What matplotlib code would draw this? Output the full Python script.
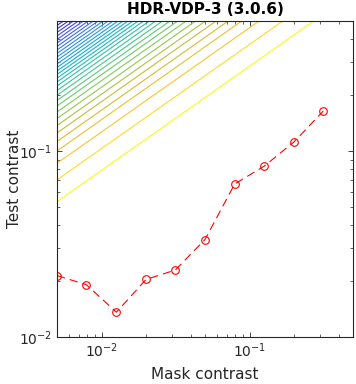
import numpy as np
import matplotlib
matplotlib.use("Agg")
import matplotlib.pyplot as plt
from matplotlib.colors import LinearSegmentedColormap

# measured thresholds (red curve)
mask_contrast = [0.005, 0.0079, 0.0126, 0.02, 0.0315, 0.05, 0.0794, 0.126, 0.2, 0.315]
test_contrast = [0.0214, 0.0191, 0.0136, 0.0204, 0.0229, 0.0334, 0.0665, 0.083, 0.112, 0.164]

# contour lines: test contrast where each line meets the left edge (mask = 0.005)
contour_left = [0.0534, 0.0699, 0.0859, 0.100, 0.1125, 0.1250, 0.1371, 0.1495,
                0.1621, 0.1746, 0.1869, 0.1993, 0.2115, 0.2236, 0.2350, 0.2463,
                0.2578, 0.2692, 0.2812, 0.2936, 0.3066, 0.3201, 0.3343, 0.3491,
                0.3646, 0.3807, 0.3976, 0.4152, 0.4336, 0.4528, 0.4728, 0.4937]
contour_slope = 0.56  # log-log slope of the contour lines

# MATLAB parula, a few stops
parula = LinearSegmentedColormap.from_list(
    "parula", [(0.2422, 0.1504, 0.6603), (0.2810, 0.3228, 0.9579),
               (0.1707, 0.5615, 0.9277), (0.0689, 0.6948, 0.8394),
               (0.2161, 0.7843, 0.5923), (0.5044, 0.7993, 0.3480),
               (0.8185, 0.7327, 0.1890), (0.9955, 0.7861, 0.1968),
               (0.9769, 0.9839, 0.0805)])

fig = plt.figure(figsize=(3.56, 3.84), dpi=100)
ax = fig.add_axes([0.160, 0.1224, 0.8315, 0.8229])

xs = np.logspace(np.log10(0.005), np.log10(0.5), 300)
ys = np.logspace(-2, np.log10(0.5), 300)
XX, YY = np.meshgrid(xs, ys)
Z = np.log10(YY) - contour_slope * np.log10(XX / 0.005)

levels = np.log10(contour_left)
n = len(levels)
t_idx = np.arange(n) / (n - 1)
t_pos = (levels - levels[0]) / (levels[-1] - levels[0])
cols = [parula(1 - 0.5 * (a + b)) for a, b in zip(t_idx, t_pos)]
ax.contour(XX, YY, Z, levels=levels, colors=cols, linewidths=0.8)

ax.plot(mask_contrast, test_contrast, color='r', linestyle=(0, (7.5, 4.5)),
        linewidth=0.8, marker='o', markersize=5.5, markerfacecolor='none',
        markeredgecolor='r', markeredgewidth=0.8)

ax.set_xscale('log')
ax.set_yscale('log')
ax.set_xlim(0.005, 0.5)
ax.set_ylim(0.01, 0.5)

dark = (0.15, 0.15, 0.15)
ax.tick_params(which='both', direction='in', top=True, right=True,
               colors=dark, labelsize=10)
ax.tick_params(which='major', length=3.5, width=0.6)
ax.tick_params(which='minor', length=2, width=0.5)
for s in ax.spines.values():
    s.set_color(dark)
    s.set_linewidth(0.8)

ax.set_xlabel('Mask contrast', fontsize=11, color=dark)
ax.set_ylabel('Test contrast', fontsize=11, color=dark)
ax.yaxis.set_label_coords(-0.118, 0.5)
ax.xaxis.set_label_coords(0.5, -0.095)
ax.set_title('HDR-VDP-3 (3.0.6)', fontsize=11, fontweight='bold', pad=5)

fig.savefig('out.png', dpi=100)
